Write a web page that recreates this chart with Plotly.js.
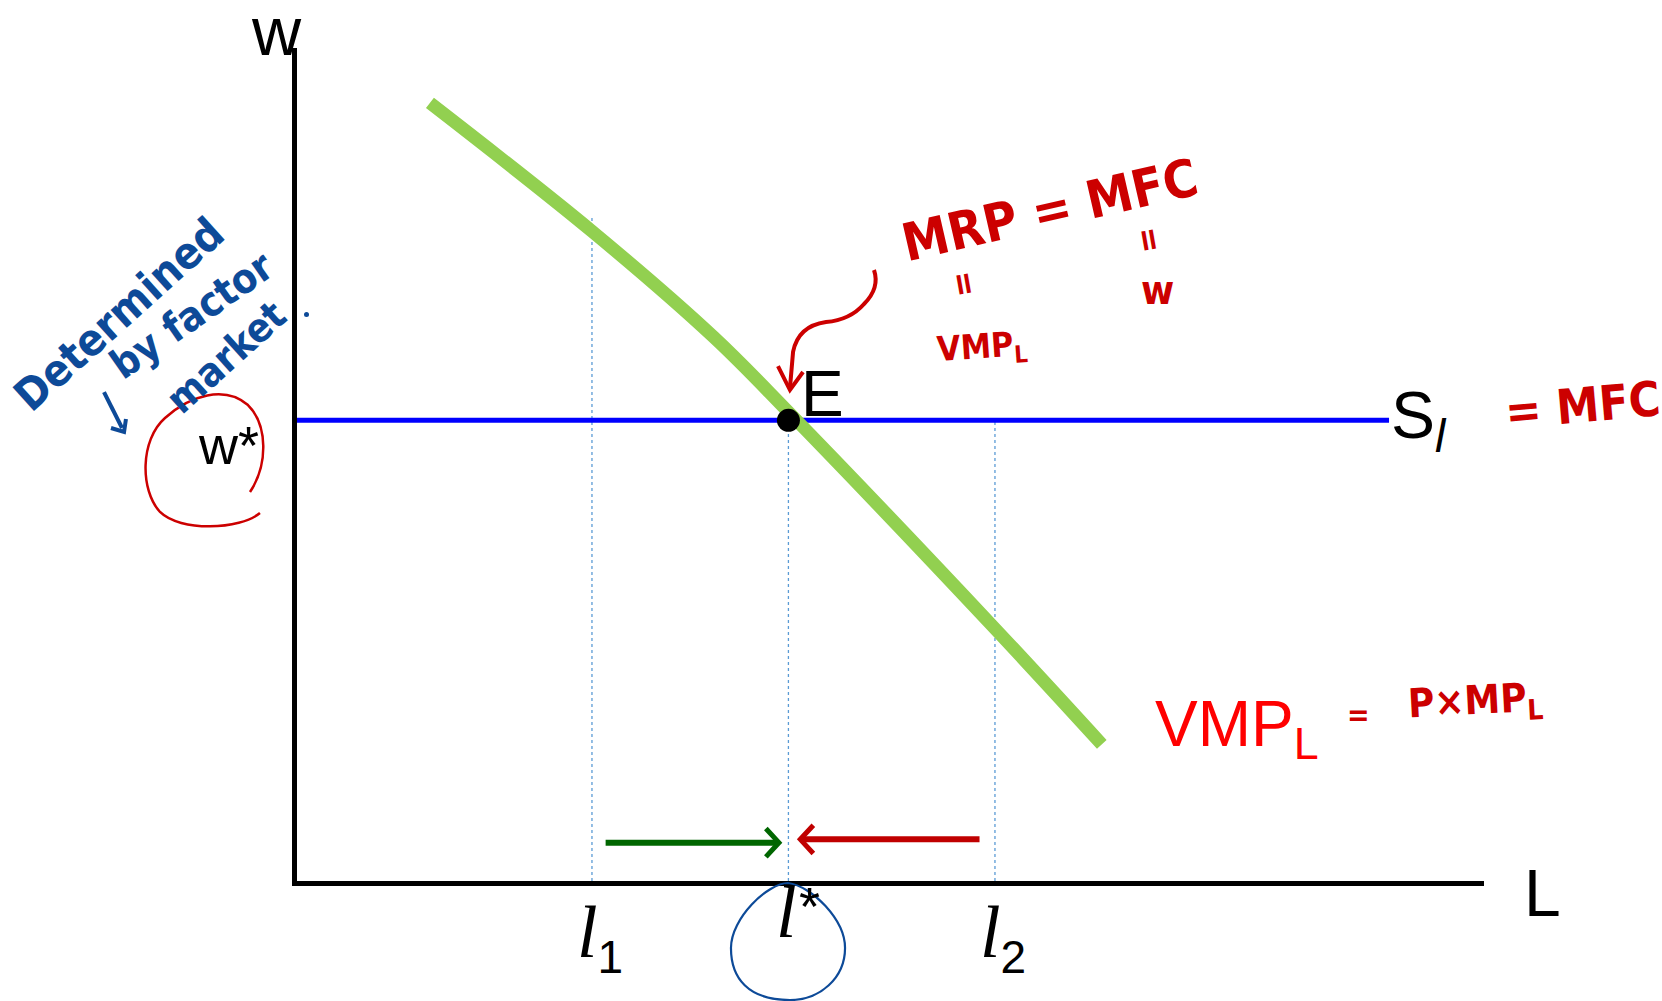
<!DOCTYPE html>
<html>
<head>
<meta charset="utf-8">
<script src="https://cdn.plot.ly/plotly-3.0.1.min.js"></script>
<style>
  html, body { margin: 0; padding: 0; background: #ffffff; }
  #chart { width: 1662px; height: 1001px; }
</style>
</head>
<body>
<div id="chart"></div>
<script>
// Labour demand (VMP_L) curve: quantity of labour vs. wage
const vmpL = [11.2, 24.85, 35.1, 41.4, 58.8, 67.8];
const vmpW = [93.4, 78.0, 65.3, 56.3, 30.3, 16.4];

// Market wage (horizontal labour supply) and equilibrium
const wStar = 55.3;
const supplyX = [0, 92];
const lStar = 41.4;

// Off-equilibrium employment levels
const l1 = 24.85;
const l2 = 58.8;
const wAtL1 = 79.8;

// Adjustment arrows toward l*
const greenArrowX = [26.0, 40.6];
const greenArrowY = 4.6;
const redArrowX = [57.5, 42.4];
const redArrowY = 5.0;

// Text labels
const axisLabels = { y: 'w', x: 'L' };
const supplyLabel = 'S<sub><i>l</i></sub>';
const demandLabel = 'VMP<sub>L</sub>';
const eqLabel = 'E';
const wageLabel = 'w*';
const levelLabels = ['1', '*', '2'];
const noteRed = ['MRP = MFC', 'VMP<sub>L</sub>', 'w', '= MFC', 'P×MP<sub>L</sub>'];
const noteBlue = ['Determined', 'by factor', 'market'];

// plot-area geometry (pixels)
const W = 1662, H = 1001;
const M = { l: 297, r: 178, t: 48, b: 120 };
const PW = W - M.l - M.r, PH = H - M.t - M.b;
// pixel -> paper
const px = x => (x - M.l) / PW;
const py = y => (H - M.b - y) / PH;
const pt = (x, y) => px(x).toFixed(4) + ',' + py(y).toFixed(4);

const RED_HAND = '#cc0000';
const BLUE_HAND = '#0d4a98';
const HAND_FONT = '"Liberation Sans Narrow", "DejaVu Sans Condensed", "Noto Sans", sans-serif';
const SANS = '"Liberation Sans", Arial, sans-serif';
const SERIF = '"Liberation Serif", "Times New Roman", serif';

const dotted = { color: '#5b9bd5', width: 1.3, dash: 'dot' };

const traces = [
  { x: [l1, l1], y: [0, wAtL1], mode: 'lines', line: dotted, hoverinfo: 'skip' },
  { x: [lStar, lStar], y: [0, wStar], mode: 'lines', line: dotted, hoverinfo: 'skip' },
  { x: [l2, l2], y: [0, wStar], mode: 'lines', line: dotted, hoverinfo: 'skip' },
  { x: supplyX, y: [wStar, wStar], mode: 'lines', line: { color: '#0000ff', width: 5 } },
  { x: vmpL, y: vmpW, mode: 'lines', line: { color: '#92d050', width: 13, shape: 'spline', smoothing: 1 } },
  { x: [lStar], y: [wStar], mode: 'markers', marker: { color: '#000000', size: 23 } },
  // green arrow l1 -> l*
  { x: greenArrowX, y: [greenArrowY, greenArrowY], mode: 'lines', line: { color: '#006600', width: 6 } },
  { x: [greenArrowX[1] - 1.1, greenArrowX[1], greenArrowX[1] - 1.1],
    y: [greenArrowY + 1.7, greenArrowY, greenArrowY - 1.7],
    mode: 'lines', line: { color: '#006600', width: 5 } },
  // red arrow l2 -> l*
  { x: redArrowX, y: [redArrowY, redArrowY], mode: 'lines', line: { color: '#c00000', width: 6 } },
  { x: [redArrowX[1] + 1.1, redArrowX[1], redArrowX[1] + 1.1],
    y: [redArrowY + 1.7, redArrowY, redArrowY - 1.7],
    mode: 'lines', line: { color: '#c00000', width: 5 } }
];

function txt(text, x, y, size, color, family, extra) {
  return Object.assign({
    text: text, x: px(x), y: py(y), xref: 'paper', yref: 'paper',
    showarrow: false, xanchor: 'center', yanchor: 'middle',
    font: { size: size, color: color, family: family }
  }, extra || {});
}

function levelLabel(xVal, mark, yPix) {
  return { text: '<i>l</i><sub><span style="font-family:Liberation Sans;font-size:46px">' + mark + '</span></sub>',
           x: xVal, xref: 'x', y: py(yPix), yref: 'paper', xshift: 8,
           showarrow: false, xanchor: 'center', yanchor: 'middle',
           font: { size: 74, color: '#000', family: SERIF } };
}

const annotations = [
  txt(axisLabels.y, 276, 31, 68, '#000', SANS),
  txt(axisLabels.x, 1542, 893, 66, '#000', SANS),
  txt(eqLabel, 822, 394, 64, '#000', SANS),
  txt(supplyLabel, 1389, 420, 66, '#000', SANS, { xanchor: 'left' }),
  txt(demandLabel, 1153, 728, 64, '#ff0000', SANS, { xanchor: 'left' }),
  txt(wageLabel, 228, 445, 54, '#000', SANS),
  // employment levels under the axis
  levelLabel(l1, levelLabels[0], 937),
  levelLabel(l2, levelLabels[2], 937),
  { text: '<i>l</i>', x: lStar, xref: 'x', y: py(912), yref: 'paper', xshift: -2,
    showarrow: false, xanchor: 'center', yanchor: 'middle',
    font: { size: 74, color: '#000', family: SERIF } },
  { text: levelLabels[1], x: lStar, xref: 'x', y: py(906), yref: 'paper', xshift: 21,
    showarrow: false, xanchor: 'center', yanchor: 'middle',
    font: { size: 54, color: '#000', family: SANS } },
  // handwritten notes
  txt('<b>' + noteRed[0] + '</b>', 1050, 210, 52, RED_HAND, HAND_FONT, { textangle: -13 }),
  txt('<b>=</b>', 965, 284, 34, RED_HAND, HAND_FONT, { textangle: 80 }),
  txt('<b>=</b>', 1150, 240, 34, RED_HAND, HAND_FONT, { textangle: 80 }),
  txt('<b>' + noteRed[1] + '</b>', 982, 348, 34, RED_HAND, HAND_FONT, { textangle: -4 }),
  txt('<b>' + noteRed[2] + '</b>', 1157, 290, 40, RED_HAND, HAND_FONT),
  txt('<b>' + noteRed[3] + '</b>', 1582, 405, 48, RED_HAND, HAND_FONT, { textangle: -5 }),
  txt('<b>=</b>', 1358, 714, 30, RED_HAND, HAND_FONT),
  txt('<b>' + noteRed[4] + '</b>', 1475, 703, 40, RED_HAND, HAND_FONT, { textangle: -3 }),
  txt('<b>' + noteBlue[0] + '</b>', 118, 314, 44, BLUE_HAND, HAND_FONT, { textangle: -42 }),
  txt('<b>' + noteBlue[1] + '</b>', 192, 315, 41, BLUE_HAND, HAND_FONT, { textangle: -35 }),
  txt('<b>' + noteBlue[2] + '</b>', 226, 357, 40, BLUE_HAND, HAND_FONT, { textangle: -42 })
];

const shapes = [
  // curved pointer from the condition to E
  { type: 'path', xref: 'paper', yref: 'paper',
    path: 'M' + pt(874, 270) + ' Q' + pt(880, 288) + ' ' + pt(864, 304) +
          ' Q' + pt(850, 320) + ' ' + pt(826, 322) + ' Q' + pt(798, 326) + ' ' + pt(793, 352) +
          ' L' + pt(790, 388),
    line: { color: RED_HAND, width: 4 } },
  { type: 'path', xref: 'paper', yref: 'paper',
    path: 'M' + pt(778, 366) + ' L' + pt(790, 390) + ' L' + pt(803, 372),
    line: { color: RED_HAND, width: 4 } },
  // loop around w*
  { type: 'path', xref: 'paper', yref: 'paper',
    path: 'M' + pt(260, 513) + ' C' + pt(240, 530) + ' ' + pt(180, 532) + ' ' + pt(160, 512) +
          ' C' + pt(140, 490) + ' ' + pt(140, 440) + ' ' + pt(165, 418) +
          ' C' + pt(190, 395) + ' ' + pt(225, 385) + ' ' + pt(248, 405) +
          ' C' + pt(268, 425) + ' ' + pt(268, 465) + ' ' + pt(250, 492),
    line: { color: RED_HAND, width: 2.5 } },
  // loop around l*
  { type: 'path', xref: 'paper', yref: 'paper',
    path: 'M' + pt(788, 883) + ' C' + pt(812, 886) + ' ' + pt(845, 920) + ' ' + pt(845, 948) +
          ' C' + pt(845, 978) + ' ' + pt(820, 1000) + ' ' + pt(790, 1000) +
          ' C' + pt(748, 1000) + ' ' + pt(731, 978) + ' ' + pt(731, 948) +
          ' C' + pt(731, 918) + ' ' + pt(768, 883) + ' ' + pt(788, 883) + ' Z',
    line: { color: BLUE_HAND, width: 2.2 } },
  // small pen arrow toward w*
  { type: 'path', xref: 'paper', yref: 'paper',
    path: 'M' + pt(104, 392) + ' L' + pt(122, 428),
    line: { color: BLUE_HAND, width: 4 } },
  { type: 'path', xref: 'paper', yref: 'paper',
    path: 'M' + pt(111, 428) + ' L' + pt(124, 432) + ' L' + pt(126, 419),
    line: { color: BLUE_HAND, width: 4 } },
  // pen dot beside the axis
  { type: 'circle', xref: 'paper', yref: 'paper',
    x0: px(304), x1: px(309), y0: py(317), y1: py(312),
    fillcolor: BLUE_HAND, line: { width: 0 } }
];

const layout = {
  width: W, height: H,
  margin: M,
  paper_bgcolor: '#ffffff', plot_bgcolor: '#ffffff',
  showlegend: false,
  xaxis: { range: [0, 100], showgrid: false, zeroline: false, showticklabels: false, ticks: '',
           showline: true, linecolor: '#000', linewidth: 5, fixedrange: true },
  yaxis: { range: [0, 100], showgrid: false, zeroline: false, showticklabels: false, ticks: '',
           showline: true, linecolor: '#000', linewidth: 5, fixedrange: true },
  annotations: annotations,
  shapes: shapes
};

Plotly.newPlot('chart', traces, layout, { displayModeBar: false, staticPlot: true });
</script>
</body>
</html>
